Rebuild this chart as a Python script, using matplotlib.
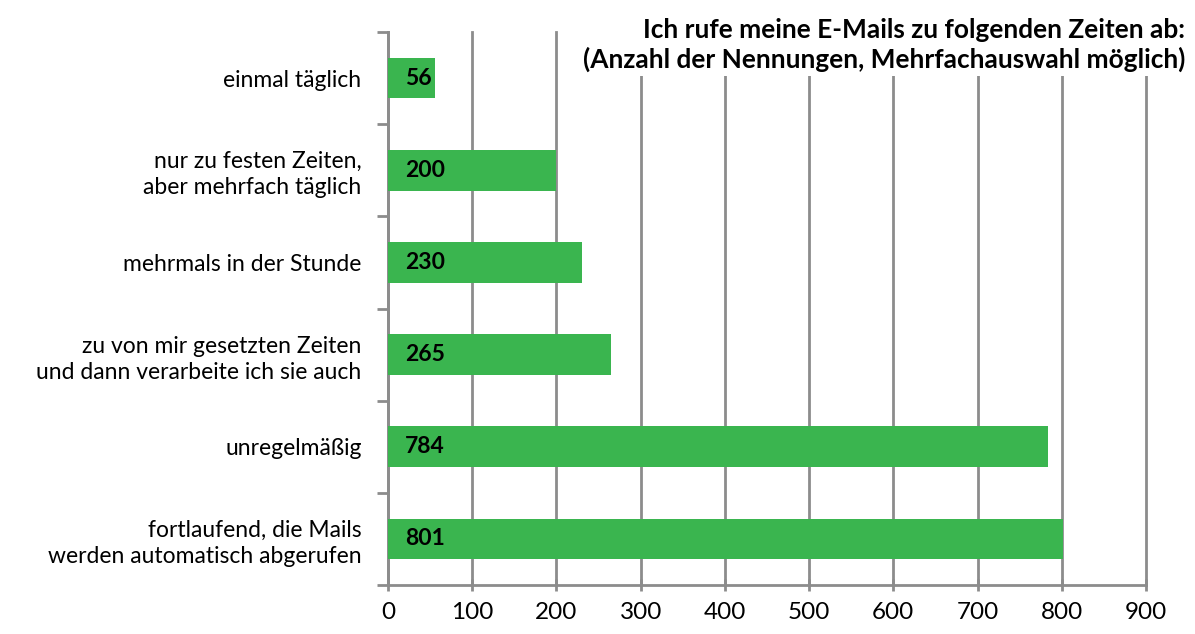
import matplotlib.pyplot as plt
import numpy as np

categories = [
    "einmal täglich",
    "nur zu festen Zeiten,\naber mehrfach täglich",
    "mehrmals in der Stunde",
    "zu von mir gesetzten Zeiten\nund dann verarbeite ich sie auch",
    "unregelmäßig",
    "fortlaufend, die Mails\nwerden automatisch abgerufen",
]
values = [56, 200, 230, 265, 784, 801]
xticks = [0, 100, 200, 300, 400, 500, 600, 700, 800, 900]
title = "Ich rufe meine E-Mails zu folgenden Zeiten ab:\n(Anzahl der Nennungen, Mehrfachauswahl möglich)"

plt.rcParams['font.family'] = ['Lato', 'DejaVu Sans']

fig = plt.figure(figsize=(11.95, 6.34), dpi=100)
ax = fig.add_axes([388/1195, 1 - 585/634, (1146 - 388)/1195, (585 - 32)/634])

green = "#3AB54F"
gray = "#8C8C8C"

y = np.arange(len(categories))
ax.barh(y, values, height=0.44, color=green, zorder=3)
ax.set_ylim(len(categories) - 0.5, -0.5)
ax.set_xlim(0, 900)
ax.set_xticks(xticks)
ax.set_xticklabels([str(t) for t in xticks], fontsize=17.5)
ax.set_yticks(y)
ax.set_yticklabels(categories, fontsize=16.5, linespacing=1.3)
ax.tick_params(axis='y', length=0, pad=19)
ax.set_yticks(np.arange(len(categories) + 1) - 0.5, minor=True)
ax.tick_params(axis='y', which='minor', length=8, width=2, color=gray, direction='out')
ax.tick_params(axis='x', length=8, width=2, color=gray, direction='inout', pad=8)

ax.grid(axis='x', color=gray, linewidth=2, zorder=0)
for gl in ax.get_xgridlines():
    gl.set_clip_on(False)
ax.set_axisbelow(True)
for s in ['top', 'right']:
    ax.spines[s].set_visible(False)
for s in ['left', 'bottom']:
    ax.spines[s].set_color(gray)
    ax.spines[s].set_linewidth(2)

for yi, v in zip(y, values):
    ax.annotate(str(v), xy=(0, yi), xytext=(12, 0), textcoords='offset points',
                ha='left', va='center', fontsize=16.5, fontweight='bold', color='black', zorder=4)

fig.text(1185/1195, 1 - 45/634, title, ha='right', va='center', fontsize=18.9,
         fontweight='bold', linespacing=1.22, zorder=5,
         bbox=dict(facecolor='white', edgecolor='none', pad=3))

fig.savefig("out.png", dpi=100)
